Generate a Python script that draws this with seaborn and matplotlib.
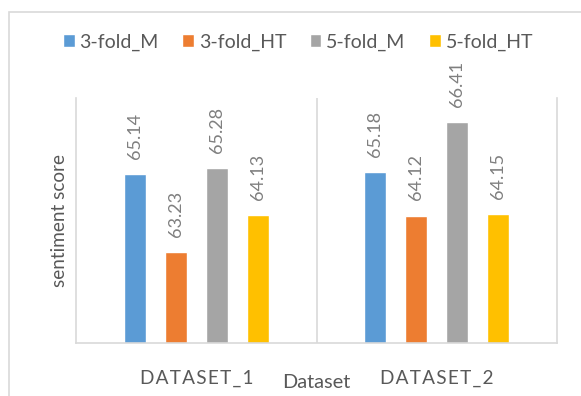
import matplotlib
matplotlib.use("Agg")
import matplotlib.pyplot as plt
from matplotlib.patches import Rectangle
import seaborn as sns
import pandas as pd

# Data
datasets = ["DATASET_1", "DATASET_2"]
methods = ["3-fold_M", "3-fold_HT", "5-fold_M", "5-fold_HT"]
scores_3fold_m = [65.14, 65.18]
scores_3fold_ht = [63.23, 64.12]
scores_5fold_m = [65.28, 66.41]
scores_5fold_ht = [64.13, 64.15]
colors = ["#5B9BD5", "#ED7D31", "#A5A5A5", "#FFC000"]

series = [scores_3fold_m, scores_3fold_ht, scores_5fold_m, scores_5fold_ht]
rows = []
for method, vals in zip(methods, series):
    for ds, v in zip(datasets, vals):
        rows.append({"Dataset": ds, "method": method, "score": v})
df = pd.DataFrame(rows)

sns.set_style("white")
FONT = ["Lato", "DejaVu Sans"]
plt.rcParams["font.family"] = FONT
TEXT = "#595959"
GRID = "#D9D9D9"

def px(p):
    return p * 0.72

def spaced(s):
    # letter-spaced category names (hair spaces between letters)
    return "\u200a".join(s)

fig = plt.figure(figsize=(5.81, 3.96), dpi=100)
ax = fig.add_axes([76 / 581, 1 - 343 / 396, (557 - 76) / 581, (343 - 98) / 396])

sns.barplot(data=df, x="Dataset", y="score", hue="method", order=datasets,
            hue_order=methods, palette=colors, width=0.68, gap=0.46,
            errorbar=None, ax=ax, saturation=1)

ax.set_ylim(61, 67)
ax.set_xlim(-0.5, 1.5)
ax.set_yticks([])
ax.set_xticks(range(len(datasets)))
ax.set_xticklabels([spaced(d) for d in datasets])
ax.tick_params(axis="x", length=0, pad=19, labelsize=px(19), labelcolor=TEXT)
ax.set_xlabel("Dataset", fontsize=px(20), color=TEXT)
ax.xaxis.set_label_coords(0.5, -0.125)
ax.set_ylabel("sentiment score", fontsize=px(19), color=TEXT, labelpad=6)

for side in ["left", "right", "bottom"]:
    ax.spines[side].set_color(GRID)
    ax.spines[side].set_linewidth(1.2)
ax.spines["top"].set_visible(False)
ax.axvline(0.5, color=GRID, lw=1.2)

for cont in ax.containers:
    ax.bar_label(cont, fmt="%.2f", padding=11, rotation=90,
                 fontsize=px(18), color="#7F7F7F")

handles, labels = ax.get_legend_handles_labels()
ax.get_legend().remove()
fig.legend(handles, labels, ncol=4, loc="center",
           bbox_to_anchor=(298 / 581, 1 - 42 / 396), frameon=False,
           fontsize=px(19.5), labelcolor=TEXT, handlelength=0.6,
           handleheight=0.6, handletextpad=0.25, columnspacing=1.2)

fig.patches.append(Rectangle((9 / 581, -0.1), 1.2, 0.1 + (1 - 12 / 396),
                             transform=fig.transFigure, fill=False,
                             edgecolor=GRID, lw=1.2))

fig.savefig("out.png", dpi=100)
